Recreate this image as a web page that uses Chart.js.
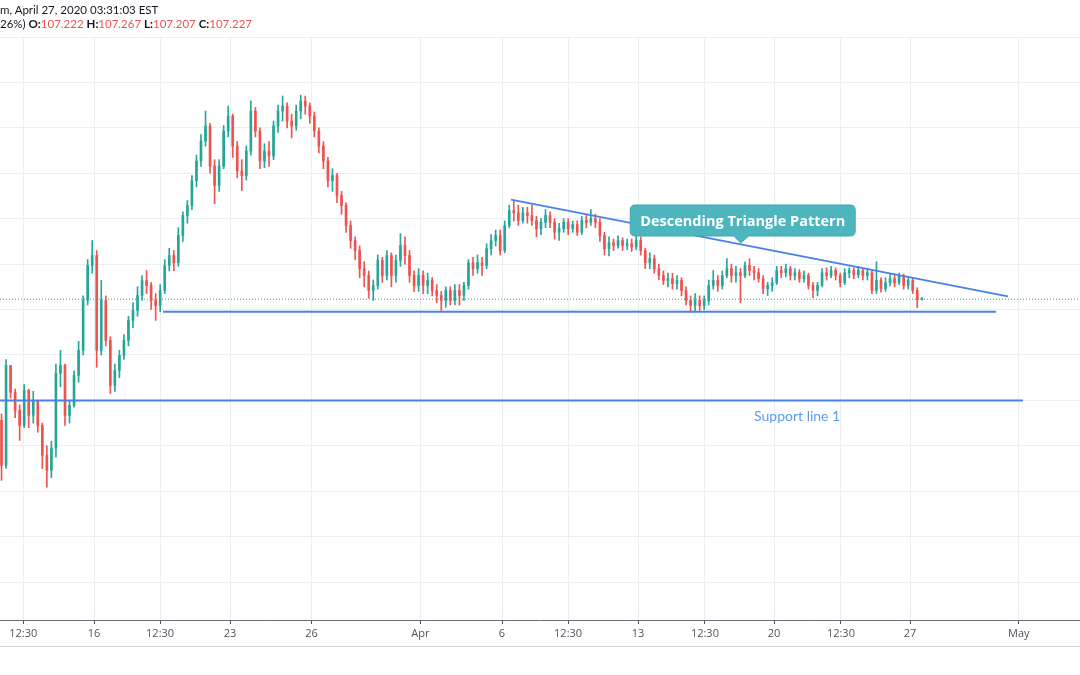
<!DOCTYPE html>
<html>
<head>
<meta charset="utf-8">
<script src="https://cdn.jsdelivr.net/npm/chart.js@4.4.1/dist/chart.umd.min.js"></script>
<style>
  html, body { margin: 0; padding: 0; background: #fff; }
  #wrap { position: relative; width: 1080px; height: 675px; overflow: hidden; }
  .hdr { position: absolute; left: 0; font-family: Lato, "Open Sans", sans-serif; font-size: 11.5px; color: #131722; white-space: nowrap; line-height: 14px; }
  .hdr b { font-weight: 700; }
  .hdr .v { color: #ef5350; }
</style>
</head>
<body>
<div id="wrap">
  <canvas id="fxChart" width="1080" height="675"></canvas>
  <div class="hdr" style="top:3px">m, April 27, 2020 03:31:03 EST</div>
  <div class="hdr" style="top:17px">26%) <b>O:</b><span class="v">107.222</span> <b>H:</b><span class="v">107.267</span> <b>L:</b><span class="v">107.207</span> <b>C:</b><span class="v">107.227</span></div>
</div>
<script>
// 4-hour candles, first one on Mar 11 (day 0 = Mar 16, trading days only)
const candlesPerDay = 6;
const firstDay = -3.4;
const firstOpen = 104.56;

const closes = [
  103.57, 105.77, 105.18, 104.78, 104.45, 105.22, 104.67, 105.00, 104.45, 103.79,
  103.46, 103.95, 105.60, 105.77, 104.67, 104.89, 105.55, 106.10, 107.20, 107.97,
  108.19, 106.10, 107.20, 106.32, 105.33, 105.66, 105.99, 106.32, 106.76, 106.98,
  107.31, 107.64, 107.53, 107.20, 107.09, 107.42, 107.97, 108.19, 108.03, 108.63,
  109.07, 109.29, 109.84, 110.27, 110.71, 111.04, 110.16, 109.73, 110.16, 110.93,
  111.26, 110.60, 110.05, 109.95, 110.49, 111.37, 110.93, 110.27, 110.49, 110.38,
  111.04, 111.37, 111.48, 111.15, 111.04, 111.37, 111.59, 111.48, 111.26, 110.93,
  110.60, 110.27, 109.84, 109.95, 109.51, 109.29, 108.85, 108.52, 108.30, 107.90,
  107.75, 107.42, 107.53, 108.08, 107.75, 108.19, 107.75, 108.08, 108.41, 108.19,
  107.75, 107.53, 107.75, 107.53, 107.64, 107.42, 107.31, 107.20, 107.42, 107.20,
  107.42, 107.31, 107.53, 108.03, 107.90, 108.03, 107.97, 108.34, 108.52, 108.63,
  108.30, 108.85, 109.18, 109.13, 108.96, 109.13, 109.07, 108.96, 108.78, 108.92,
  109.07, 108.92, 108.70, 108.78, 108.92, 108.78, 108.87, 108.70, 108.96, 108.92,
  109.00, 108.92, 108.63, 108.34, 108.47, 108.41, 108.52, 108.41, 108.45, 108.38,
  108.52, 108.30, 108.03, 108.12, 107.90, 107.75, 107.64, 107.68, 107.57, 107.64,
  107.42, 107.20, 107.09, 107.20, 107.09, 107.20, 107.53, 107.64, 107.53, 107.75,
  107.90, 107.75, 107.81, 107.75, 107.97, 107.86, 107.81, 107.68, 107.46, 107.53,
  107.59, 107.86, 107.81, 107.90, 107.75, 107.81, 107.68, 107.75, 107.53, 107.42,
  107.53, 107.81, 107.75, 107.86, 107.75, 107.59, 107.81, 107.86, 107.77, 107.86,
  107.75, 107.81, 107.42, 107.64, 107.46, 107.59, 107.68, 107.59, 107.73, 107.53,
  107.64, 107.42, 107.222, 107.227
];
const highs = [
  104.70, 105.90, 105.75, 105.25, 104.90, 105.35, 105.25, 105.20, 104.95, 104.50,
  104.00, 104.10, 105.80, 106.10, 105.80, 105.00, 105.65, 106.30, 107.30, 108.10,
  108.52, 108.30, 107.64, 107.30, 106.40, 105.80, 106.10, 106.45, 106.85, 107.15,
  107.50, 107.75, 107.86, 107.60, 107.35, 107.55, 108.10, 108.35, 108.30, 108.80,
  109.15, 109.40, 109.95, 110.40, 110.85, 111.37, 111.10, 110.30, 110.30, 111.05,
  111.48, 111.30, 110.70, 110.30, 110.60, 111.59, 111.45, 111.00, 110.65, 110.70,
  111.15, 111.50, 111.70, 111.55, 111.30, 111.50, 111.72, 111.70, 111.55, 111.35,
  111.00, 110.70, 110.35, 110.10, 110.00, 109.60, 109.35, 108.95, 108.60, 108.40,
  108.05, 107.85, 107.65, 108.20, 108.15, 108.30, 108.25, 108.20, 108.67, 108.60,
  108.30, 107.85, 107.90, 107.85, 107.80, 107.70, 107.55, 107.40, 107.50, 107.50,
  107.55, 107.55, 107.60, 108.10, 108.15, 108.20, 108.15, 108.45, 108.65, 108.75,
  108.75, 108.95, 109.30, 109.40, 109.30, 109.25, 109.25, 109.30, 109.05, 109.00,
  109.20, 109.15, 109.00, 108.90, 109.00, 109.00, 108.95, 108.95, 109.05, 109.10,
  109.20, 109.10, 109.00, 108.70, 108.60, 108.55, 108.62, 108.58, 108.55, 108.55,
  108.62, 108.60, 108.35, 108.25, 108.20, 108.00, 107.85, 107.80, 107.80, 107.75,
  107.70, 107.50, 107.30, 107.35, 107.30, 107.30, 107.65, 107.86, 107.75, 107.85,
  108.12, 108.00, 107.95, 107.90, 108.05, 108.12, 107.95, 107.90, 107.75, 107.60,
  107.70, 107.95, 107.95, 108.00, 107.95, 107.90, 107.88, 107.85, 107.80, 107.60,
  107.60, 107.90, 107.92, 107.95, 107.92, 107.80, 107.90, 107.92, 107.92, 107.95,
  107.90, 107.90, 107.85, 108.05, 107.70, 107.70, 107.78, 107.76, 107.80, 107.78,
  107.72, 107.70, 107.48, 107.267
];
const lows = [
  103.24, 103.50, 105.05, 104.62, 104.12, 104.40, 104.40, 104.50, 104.30, 103.50,
  103.09, 103.30, 103.75, 105.30, 104.45, 104.50, 104.85, 105.40, 106.00, 107.10,
  107.80, 105.73, 106.00, 106.20, 105.15, 105.20, 105.50, 105.90, 106.20, 106.60,
  106.85, 107.20, 107.35, 107.00, 106.76, 106.95, 107.35, 107.85, 107.85, 107.95,
  108.50, 108.90, 109.20, 109.70, 110.15, 110.60, 110.00, 109.33, 109.60, 110.10,
  110.80, 110.35, 109.90, 109.62, 109.85, 110.40, 110.80, 110.10, 110.12, 110.15,
  110.30, 110.90, 111.15, 111.00, 110.78, 110.95, 111.20, 111.30, 111.10, 110.80,
  110.45, 110.10, 109.70, 109.60, 109.35, 109.10, 108.70, 108.35, 108.10, 107.70,
  107.50, 107.25, 107.20, 107.45, 107.60, 107.65, 107.50, 107.60, 107.95, 108.00,
  107.60, 107.40, 107.40, 107.35, 107.35, 107.30, 107.15, 106.98, 107.05, 107.10,
  107.10, 107.10, 107.20, 107.45, 107.75, 107.80, 107.75, 107.90, 108.20, 108.40,
  108.20, 108.25, 108.80, 108.95, 108.85, 108.90, 108.90, 108.85, 108.60, 108.65,
  108.80, 108.80, 108.55, 108.52, 108.70, 108.65, 108.70, 108.63, 108.65, 108.80,
  108.85, 108.80, 108.50, 108.20, 108.18, 108.30, 108.35, 108.30, 108.32, 108.28,
  108.32, 108.20, 107.90, 107.90, 107.80, 107.65, 107.55, 107.50, 107.45, 107.45,
  107.30, 107.10, 106.96, 106.95, 106.98, 107.00, 107.10, 107.45, 107.40, 107.45,
  107.70, 107.60, 107.60, 107.15, 107.70, 107.75, 107.65, 107.60, 107.35, 107.31,
  107.40, 107.55, 107.70, 107.72, 107.65, 107.65, 107.60, 107.60, 107.45, 107.26,
  107.30, 107.50, 107.65, 107.70, 107.65, 107.50, 107.55, 107.70, 107.68, 107.70,
  107.65, 107.65, 107.35, 107.35, 107.38, 107.40, 107.52, 107.50, 107.55, 107.45,
  107.45, 107.35, 107.04, 107.207
];

// x axis labels (in trading days from Mar 16)
const tickDays = [-2.6, 0, 2.43, 5, 8, 12, 15, 17.43, 20, 22.46, 25, 27.46, 30, 34];
const tickLabels = ['12:30', '16', '12:30', '23', '26', 'Apr', '6', '12:30', '13', '12:30', '20', '12:30', '27', 'May'];

// drawings
const lastPrice = 107.227;
const supportPrice = 105.0;
const supportDays = [-3.46, 34.15];
const basePrice = 106.95;
const baseDays = [2.54, 33.16];
const topDays = [15.33, 33.6];
const topPrices = [109.42, 107.29];
const calloutText = 'Descending Triangle Pattern';
const calloutAt = [23.85, 108.96];
const supportLabel = 'Support line 1';
const supportLabelAt = [25.85, 104.65];

const UP = '#26a69a', DOWN = '#ef5350';
const opens = closes.map((c, i) => i ? closes[i - 1] : firstOpen);
const days = closes.map((c, i) => firstDay + i / candlesPerDay);
const colors = closes.map((c, i) => c >= opens[i] ? UP : DOWN);

const xMin = -3.456, xMax = 36.25;

const overlay = {
  id: 'overlay',
  beforeDraw(chart) {
    const c = chart.ctx;
    c.save();
    c.fillStyle = '#fff';
    c.fillRect(0, 0, chart.width, chart.height);
    c.restore();
  },
  afterDraw(chart) {
    const c = chart.ctx, xs = chart.scales.x, ys = chart.scales.y;
    c.save();
    // bottom separator under the time axis
    c.strokeStyle = '#d6d9de';
    c.lineWidth = 1;
    c.beginPath();
    c.moveTo(0, 646.5); c.lineTo(chart.width, 646.5);
    c.stroke();

    // support label
    c.font = '14px Lato, "Open Sans", sans-serif';
    c.fillStyle = '#5b9bf0';
    c.textAlign = 'center';
    c.textBaseline = 'middle';
    c.fillText(supportLabel, xs.getPixelForValue(supportLabelAt[0]), ys.getPixelForValue(supportLabelAt[1]));

    // callout box
    c.font = 'bold 14.5px "Open Sans", sans-serif';
    const tw = c.measureText(calloutText).width;
    const cx = xs.getPixelForValue(calloutAt[0]);
    const cy = ys.getPixelForValue(calloutAt[1]);
    const w = tw + 20, h = 31, r = 5;
    const x0 = cx - w / 2, y0 = cy - h / 2;
    c.fillStyle = '#4db5bd';
    c.strokeStyle = '#3ea7af';
    c.beginPath();
    c.moveTo(x0 + r, y0);
    c.lineTo(x0 + w - r, y0);
    c.quadraticCurveTo(x0 + w, y0, x0 + w, y0 + r);
    c.lineTo(x0 + w, y0 + h - r);
    c.quadraticCurveTo(x0 + w, y0 + h, x0 + w - r, y0 + h);
    c.lineTo(cx + 6, y0 + h);
    c.lineTo(cx - 2, y0 + h + 7);
    c.lineTo(cx - 9, y0 + h);
    c.lineTo(x0 + r, y0 + h);
    c.quadraticCurveTo(x0, y0 + h, x0, y0 + h - r);
    c.lineTo(x0, y0 + r);
    c.quadraticCurveTo(x0, y0, x0 + r, y0);
    c.closePath();
    c.fill();
    c.stroke();
    c.fillStyle = '#fff';
    c.fillText(calloutText, cx, cy + 1);
    c.restore();
  }
};

new Chart(document.getElementById('fxChart'), {
  type: 'bar',
  data: {
    datasets: [
      {
        type: 'line', order: 1,
        data: [{ x: xMin, y: lastPrice }, { x: xMax, y: lastPrice }],
        borderColor: UP, borderWidth: 1, borderDash: [1, 2], pointRadius: 0
      },
      {
        type: 'line', order: 1,
        data: [{ x: supportDays[0], y: supportPrice }, { x: supportDays[1], y: supportPrice }],
        borderColor: '#4a82e3', borderWidth: 2, pointRadius: 0
      },
      {
        type: 'line', order: 1,
        data: [{ x: baseDays[0], y: basePrice }, { x: baseDays[1], y: basePrice }],
        borderColor: '#4a82e3', borderWidth: 2, pointRadius: 0
      },
      {
        type: 'line', order: 1,
        data: [{ x: topDays[0], y: topPrices[0] }, { x: topDays[1], y: topPrices[1] }],
        borderColor: '#4a82e3', borderWidth: 2, pointRadius: 0
      },
      {
        order: 3, grouped: false,
        data: days.map((d, i) => ({ x: d, y: [lows[i], highs[i]] })),
        backgroundColor: colors, barThickness: 1
      },
      {
        order: 2, grouped: false,
        data: days.map((d, i) => ({ x: d, y: [opens[i], closes[i]] })),
        backgroundColor: colors, barThickness: 2, minBarLength: 1
      }
    ]
  },
  options: {
    responsive: false,
    animation: false,
    events: [],
    layout: { padding: { top: 37, left: 0, right: 0, bottom: 29 } },
    plugins: { legend: { display: false }, tooltip: { enabled: false } },
    scales: {
      x: {
        type: 'linear', min: xMin, max: xMax, offset: false,
        afterBuildTicks: s => { s.ticks = tickDays.map(v => ({ value: v })); },
        afterFit: s => { s.height = 26; },
        ticks: {
          autoSkip: false, maxRotation: 0, padding: 3,
          color: '#50535e', font: { family: '"Open Sans", sans-serif', size: 11 },
          callback: (v, i) => tickLabels[i]
        },
        grid: { offset: false, color: '#e9eff3', tickColor: '#50535e', tickLength: 4 },
        border: { display: true, color: '#6a6d78', width: 1 }
      },
      y: {
        min: 100.165, max: 113,
        afterFit: s => { s.width = 0; },
        ticks: { display: false, stepSize: 1 },
        grid: { color: '#e9eff3', drawTicks: false },
        border: { display: false }
      }
    }
  },
  plugins: [overlay]
});
</script>
</body>
</html>
